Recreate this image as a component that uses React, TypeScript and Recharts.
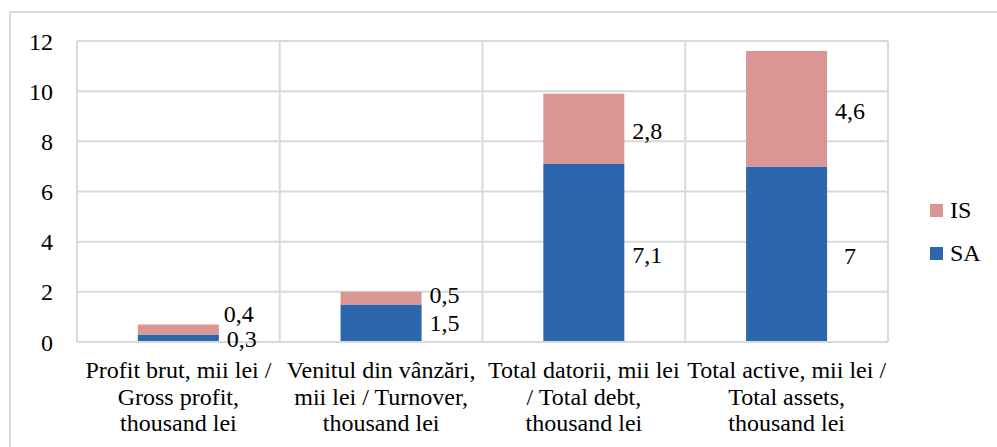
import { BarChart, Bar, XAxis, YAxis, CartesianGrid, LabelList } from "recharts"

const CATEGORIES = [
  ["Profit brut, mii lei /", "Gross profit,", "thousand lei"],
  ["Venitul din vânzări,", "mii lei / Turnover,", "thousand lei"],
  ["Total datorii, mii lei", "/ Total debt,", "thousand lei"],
  ["Total active, mii lei /", "Total assets,", "thousand lei"],
]
const SA = [0.3, 1.5, 7.1, 7]
const IS = [0.4, 0.5, 2.8, 4.6]
const Y_TICKS = [0, 2, 4, 6, 8, 10, 12]

const data = CATEGORIES.map((lines, i) => ({ name: lines.join(" "), lines, SA: SA[i], IS: IS[i] }))

const FONT = "Liberation Serif"
const FS = 24
const BLUE = "#2C66AC"
const PINK = "#D99694"
const GRID = "#D9D9D9"
const TXT = { fontFamily: FONT, fontSize: FS, fill: "#000" }

const fmt = (v: number) => String(v).replace(".", ",")

// small nudges so the labels of thin segments don't collide (like Excel does)
const NUDGE_Y: Record<string, number[]> = {
  IS: [-17.5, -5, 0, 0],
  SA: [-1, -2.5, 0, 0],
}
const NUDGE_X: Record<string, number[]> = {
  IS: [-3, 0, 0, 0],
  SA: [0, 0, 0, 0],
}

const makeLabel = (key: string) => (props: any) => {
  const { x, y, width, height, value, index } = props
  const cy = Number(y) + Number(height) / 2 + (NUDGE_Y[key][index] || 0)
  return (
    <text x={Number(x) + Number(width) + 23 + (NUDGE_X[key][index] || 0)} y={cy} dy={10} textAnchor="middle" style={TXT}>
      {fmt(value)}
    </text>
  )
}

const XTick = (props: any) => {
  const { x, y, index } = props
  const lines = data[index]?.lines || []
  return (
    <text x={x} y={y} textAnchor="middle" style={TXT}>
      {lines.map((l: string, i: number) => (
        <tspan key={i} x={x} dy={i === 0 ? 36 : 26.5}>
          {l}
        </tspan>
      ))}
    </text>
  )
}

const LEGEND = [
  { label: "IS", color: PINK },
  { label: "SA", color: BLUE },
]

export default function App() {
  return (
    <div style={{ position: "absolute", left: 0, top: 0, width: 997, height: 447, background: "#fff", overflow: "hidden" }}>
      <div
        style={{
          position: "absolute",
          left: 9,
          top: 11,
          width: 1100,
          height: 500,
          borderTop: `2px solid ${GRID}`,
          borderLeft: `2px solid ${GRID}`,
        }}
      />
      <div style={{ position: "absolute", left: 0, top: 0 }}>
        <BarChart
          width={997}
          height={447}
          data={data}
          margin={{ top: 41, right: 109, bottom: 0, left: 0 }}
          barCategoryGap="30%"
        >
          <CartesianGrid
            stroke={GRID}
            strokeWidth={2}
            verticalCoordinatesGenerator={({ offset }: any) =>
              CATEGORIES.map((_, i) => offset.left + (i * offset.width) / CATEGORIES.length).concat(offset.left + offset.width)
            }
          />
          <XAxis
            dataKey="name"
            height={105}
            axisLine={{ stroke: GRID, strokeWidth: 2 }}
            tickLine={false}
            tickSize={0}
            tickMargin={0}
            interval={0}
            tick={<XTick />}
          />
          <YAxis
            width={77}
            domain={[0, 12]}
            ticks={Y_TICKS}
            axisLine={false}
            tickLine={false}
            tickSize={0}
            tickMargin={24}
            tick={{ ...TXT, style: TXT }}
          />
          <Bar dataKey="SA" stackId="a" fill={BLUE} isAnimationActive={false}>
            <LabelList dataKey="SA" content={makeLabel("SA")} />
          </Bar>
          <Bar dataKey="IS" stackId="a" fill={PINK} isAnimationActive={false}>
            <LabelList dataKey="IS" content={makeLabel("IS")} />
          </Bar>
        </BarChart>
      </div>
      <div style={{ position: "absolute", left: 930, top: 189, fontFamily: FONT, fontSize: FS, color: "#000" }}>
        {LEGEND.map((it) => (
          <div key={it.label} style={{ display: "flex", alignItems: "center", height: 43 }}>
            <span style={{ display: "inline-block", width: 13, height: 13, background: it.color, marginRight: 7 }} />
            <span>{it.label}</span>
          </div>
        ))}
      </div>
    </div>
  )
}
